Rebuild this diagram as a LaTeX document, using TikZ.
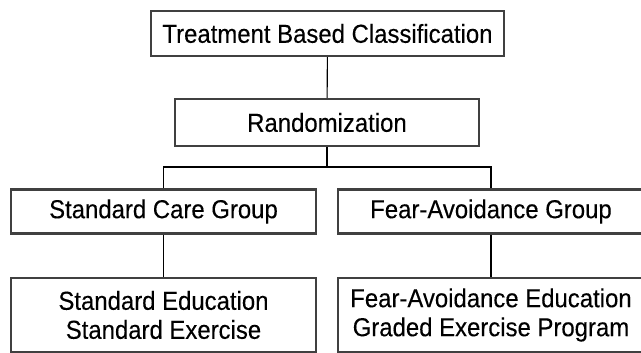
\documentclass[tikz,border=0pt]{standalone}
\usepackage{fontspec}
\setmainfont{Liberation Sans}[FakeStretch=0.92,FakeBold=0.2]
\usetikzlibrary{positioning}

\begin{document}
\begin{tikzpicture}[x=1pt,y=-1pt,
  box/.style={draw=black!75,line width=2.4pt,rectangle,inner sep=0pt,
    align=center,font=\fontsize{26}{29}\selectfont},
  link/.style={draw=black,line width=1.1pt}]
  \clip (0,0) rectangle (641,353);
  \fill[white] (0,0) rectangle (641,353);

  \node[box,minimum width=353pt,minimum height=45pt] (tbc) at (327.5,33.5) {Treatment Based Classification};
  \node[box,minimum width=304pt,minimum height=47pt] (rand) at (327,122.5) {Randomization};
  \coordinate (split) at (327,167);

  \node[box,minimum width=305pt,minimum height=44pt] (scg) at (163.5,211.5) {Standard Care Group};
  \node[box,minimum width=306pt,minimum height=44pt] (fag) at (491,211.5) {Fear-Avoidance Group};

  \node[box,minimum width=305pt,minimum height=74pt] (sce) at (163.5,315) {Standard Education\\Standard Exercise};
  \node[box,minimum width=306pt,minimum height=74pt] (fae) at (491,315) {Fear-Avoidance Education\\Graded Exercise Program};

  %connectors
  \draw[link] (tbc) -- (rand);
  \draw[link] (rand) -- (split);
  \draw[link] (scg.north) |- (split) -| (fag.north);
  \draw[link] (scg) -- (sce);
  \draw[link] (fag) -- (fae);
\end{tikzpicture}
\end{document}
